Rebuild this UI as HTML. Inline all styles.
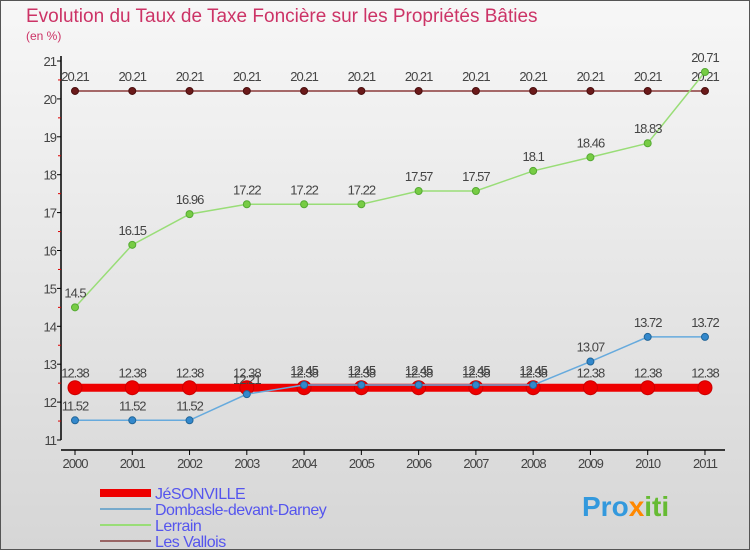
<!DOCTYPE html>
<html><head><meta charset="utf-8"><style>
body{margin:0;width:750px;height:550px;overflow:hidden;font-family:"Liberation Sans",sans-serif}
svg text{font-family:"Liberation Sans",sans-serif}
</style></head><body>
<svg id="c" width="750" height="550" xmlns="http://www.w3.org/2000/svg">
<defs><linearGradient id="bg" x1="0" y1="0" x2="0" y2="1"><stop offset="0" stop-color="#f7f7f7"/><stop offset="1" stop-color="#d6d6d6"/></linearGradient></defs>
<rect x="0.5" y="0.5" width="749" height="549" fill="url(#bg)" stroke="#555"/>
<text x="26" y="22" font-size="19" fill="#cc3366">Evolution du Taux de Taxe Foncière sur les Propriétés Bâties</text>
<text x="26" y="40" font-size="12" fill="#cc3366">(en %)</text>
<g id="axes"></g><g id="series"></g><g id="legend"></g>
<g><text x="582" y="516" font-size="28" font-weight="bold" fill="#3399dd">Pro<tspan fill="#ff8800">x</tspan><tspan fill="#66bb33">iti</tspan></text></g>
</svg>
<script>
const years=[2000,2001,2002,2003,2004,2005,2006,2007,2008,2009,2010,2011];
const yTicks=[11,12,13,14,15,16,17,18,19,20,21];
const jesonville=[12.38,12.38,12.38,12.38,12.38,12.38,12.38,12.38,12.38,12.38,12.38,12.38];
const dombasle=[11.52,11.52,11.52,12.21,12.45,12.45,12.45,12.45,12.45,13.07,13.72,13.72];
const lerrain=[14.5,16.15,16.96,17.22,17.22,17.22,17.57,17.57,18.1,18.46,18.83,20.71];
const vallois=[20.21,20.21,20.21,20.21,20.21,20.21,20.21,20.21,20.21,20.21,20.21,20.21];
const NS="http://www.w3.org/2000/svg";
const X=i=>75+i*57.27, Y=v=>440-(v-11)*37.9;
function mk(p,t,a){const e=document.createElementNS(NS,t);for(const k in a)e.setAttribute(k,a[k]);p.appendChild(e);return e;}
const ax=document.getElementById('axes');
let l=mk(ax,'line',{x1:61,y1:Y(21)-5,x2:61,y2:440,stroke:'#000','stroke-width':1.5});


l=mk(ax,'line',{x1:61,y1:450,x2:725,y2:450,stroke:'#000','stroke-width':1.5});


yTicks.forEach(v=>{mk(ax,'line',{x1:57,y1:Y(v),x2:61,y2:Y(v),stroke:'#000'});
 if(v<21)mk(ax,'line',{x1:58,y1:Y(v+0.5),x2:61,y2:Y(v+0.5),stroke:'#d00'});
 const t=mk(ax,'text',{x:56,y:Y(v)+5,'font-size':13,'text-anchor':'end',fill:'#444','letter-spacing':'-1'});t.textContent=v;
 
 });
years.forEach((y,i)=>{mk(ax,'line',{x1:X(i),y1:450,x2:X(i),y2:455,stroke:'#000'});
 const t=mk(ax,'text',{x:X(i),y:468,'font-size':13,'text-anchor':'middle',fill:'#444','letter-spacing':'-1'});t.textContent=y;
 
 });
const sg=document.getElementById('series');
function series(name,data,color,w,r,dot,stroke){
 const g=mk(sg,'g',{});
 
 
 mk(g,'polyline',{points:data.map((v,i)=>X(i)+','+Y(v)).join(' '),fill:'none',stroke:color,'stroke-width':w});
 data.forEach((v,i)=>{const c=mk(g,'circle',{cx:X(i),cy:Y(v),r:r,fill:dot,stroke:stroke,'stroke-width':1});
  
  
  const t=mk(g,'text',{x:X(i),y:Y(v)-10,'font-size':13,'text-anchor':'middle',fill:'#444','letter-spacing':'-1'});t.textContent=v;
  
  });
}
series('les-vallois',vallois,'#8b3a3a',1.5,3.5,'#6b1a1a','#4a0f0f');
series('lerrain',lerrain,'#99dd77',1.5,3.5,'#77cc44','#55aa33');
series('jesonville',jesonville,'#ee0000',8,7,'#ee0000','#cc0000');
series('dombasle',dombasle,'#66aadd',1.5,3.5,'#3388cc','#226699');
const lg=document.getElementById('legend');
[['JéSONVILLE','#ee0000',8],['Dombasle-devant-Darney','#77aacc',2],['Lerrain','#99dd77',2],['Les Vallois','#996666',2]].forEach((e,i)=>{
 const y=493+i*16;
 const g=mk(lg,'g',{});
 
 
 mk(g,'line',{x1:100,y1:y,x2:151,y2:y,stroke:e[1],'stroke-width':e[2]});
 const t=mk(g,'text',{x:155,y:y+6,'font-size':16,fill:'#5555ee','letter-spacing':'-0.5'});t.textContent=e[0];
});
</script>
</body></html>
